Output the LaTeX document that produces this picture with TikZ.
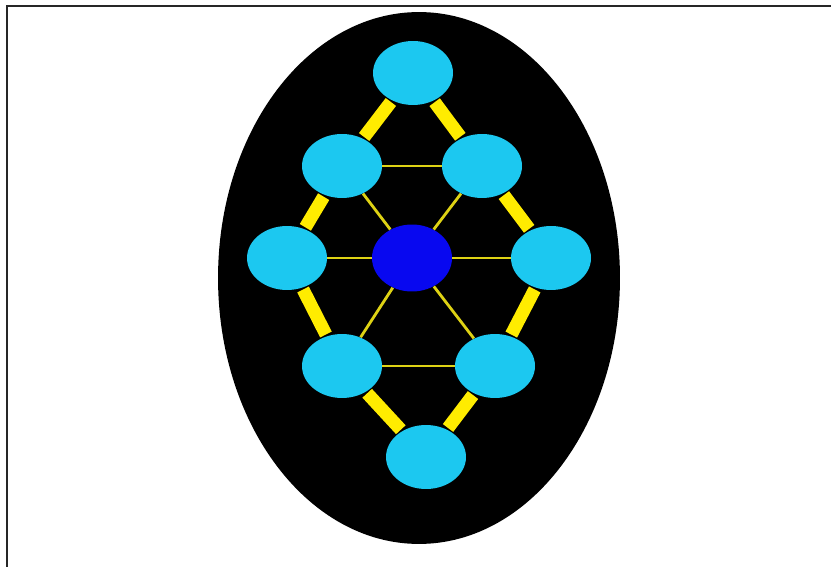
\documentclass[tikz,border=0pt]{standalone}
\usepackage{tikz}
\usetikzlibrary{shapes.geometric}
\definecolor{atomcyan}{RGB}{28, 200, 240}
\definecolor{corepurple}{RGB}{8, 8, 240}
\definecolor{bondyellow}{RGB}{255, 236, 0}
\definecolor{linkyellow}{RGB}{222, 210, 20}
\tikzset{
 atom/.style={
 ellipse,
 fill=atomcyan,
 inner sep=0pt,
 minimum width=1.6cm,
 minimum height=1.28cm
 },
 core/.style={
 atom,
 fill=corepurple,
 minimum height=1.34cm
 },
 bond/.style={draw=bondyellow, line width=7.4pt, shorten <=1pt, shorten >=1pt},
 link/.style={draw=linkyellow, line width=1.6pt}
}

\begin{document}
\begin{tikzpicture}[x=0.02cm, y=-0.02cm]
 \useasboundingbox (0,0) rectangle (831,567);
 % frame and backdrop
 \draw[line width=1.2pt, black!85] (7,567) -- (7,6) -- (831,6);
 \fill[black] (419,278) ellipse [x radius=4.02cm, y radius=5.32cm];
 % atoms
 \node[atom] (top) at (413,73) {};
 \node[atom] (ul) at (342,166) {};
 \node[atom] (ur) at (482,166) {};
 \node[atom] (left) at (287,258) {};
 \node[core] (mid) at (412,258) {};
 \node[atom] (right) at (551,258) {};
 \node[atom] (ll) at (342,366) {};
 \node[atom] (lr) at (495,366) {};
 \node[atom] (bot) at (426,457) {};
 % outer ring and inner spokes
 \foreach \a/\b in {top/ul, top/ur, ul/left, ur/right, left/ll, right/lr, ll/bot, lr/bot}
 \draw[bond] (\a) -- (\b);
 \foreach \a/\b in {ul/ur, left/mid, mid/right, ll/lr, mid/ul, mid/ur, mid/ll, mid/lr}
 \draw[link] (\a) -- (\b);
\end{tikzpicture}
\end{document}
